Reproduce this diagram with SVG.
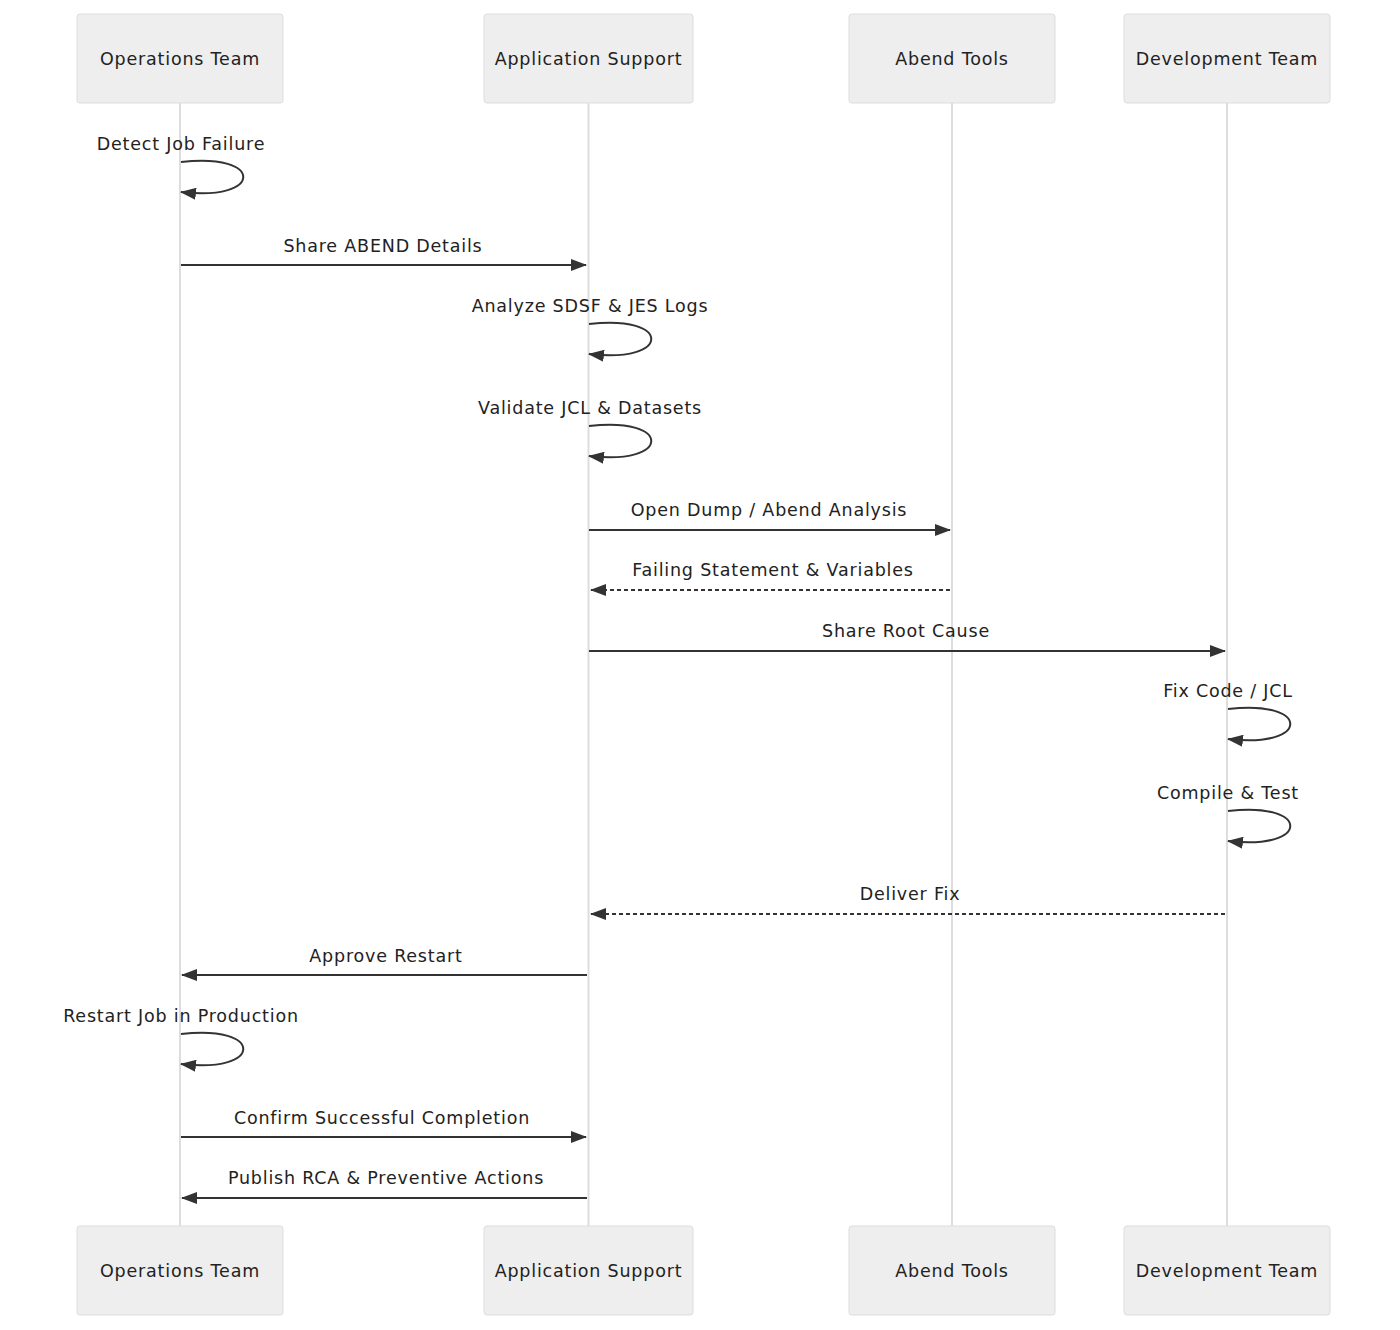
<svg xmlns="http://www.w3.org/2000/svg" width="1400" height="1330" viewBox="0 0 1400 1330">
<style>
.box{fill:#eee;stroke:#ddd;stroke-width:1}
.life{stroke:#ddd;stroke-width:2}
.t{font-family:"DejaVu Sans",sans-serif;font-size:17.5px;letter-spacing:0.8px;fill:#222;text-anchor:middle}
.m{stroke:#333;stroke-width:2;fill:none}
.d{stroke-dasharray:4,3}
</style>
<defs>
<marker id="ah" viewBox="0 0 16 12" refX="15" refY="6" markerWidth="16" markerHeight="12" markerUnits="userSpaceOnUse" orient="auto"><path d="M0,0 L16,6 L0,12 z" fill="#333"/></marker>
</defs>
<rect width="1400" height="1330" fill="#fff"/>
<g id="lifelines">
<line class="life" x1="180" y1="103" x2="180" y2="1226"/>
<line class="life" x1="588.5" y1="103" x2="588.5" y2="1226"/>
<line class="life" x1="952" y1="103" x2="952" y2="1226"/>
<line class="life" x1="1227" y1="103" x2="1227" y2="1226"/>
</g>
<g id="ops-top"><rect class="box" x="77" y="14" width="206" height="89" rx="3"/><text class="t" x="180" y="65">Operations Team</text></g>
<g id="app-top"><rect class="box" x="484" y="14" width="209" height="89" rx="3"/><text class="t" x="588.5" y="65">Application Support</text></g>
<g id="abend-top"><rect class="box" x="849" y="14" width="206" height="89" rx="3"/><text class="t" x="952" y="65">Abend Tools</text></g>
<g id="dev-top"><rect class="box" x="1124" y="14" width="206" height="89" rx="3"/><text class="t" x="1227" y="65">Development Team</text></g>
<g id="ops-bot"><rect class="box" x="77" y="1226" width="206" height="89" rx="3"/><text class="t" x="180" y="1277">Operations Team</text></g>
<g id="app-bot"><rect class="box" x="484" y="1226" width="209" height="89" rx="3"/><text class="t" x="588.5" y="1277">Application Support</text></g>
<g id="abend-bot"><rect class="box" x="849" y="1226" width="206" height="89" rx="3"/><text class="t" x="952" y="1277">Abend Tools</text></g>
<g id="dev-bot"><rect class="box" x="1124" y="1226" width="206" height="89" rx="3"/><text class="t" x="1227" y="1277">Development Team</text></g>
<g id="connectors">
<path class="m" marker-end="url(#ah)" d="M181,162 C264,152 264,202 181,192"/>
<line class="m" marker-end="url(#ah)" x1="181" y1="265" x2="586" y2="265"/>
<path class="m" marker-end="url(#ah)" d="M589,324 C672,314 672,364 589,354"/>
<path class="m" marker-end="url(#ah)" d="M589,426 C672,416 672,466 589,456"/>
<line class="m" marker-end="url(#ah)" x1="589" y1="530" x2="950" y2="530"/>
<line class="m d" marker-end="url(#ah)" x1="950" y1="590" x2="591" y2="590"/>
<line class="m" marker-end="url(#ah)" x1="589" y1="651" x2="1225" y2="651"/>
<path class="m" marker-end="url(#ah)" d="M1228,709 C1311,699 1311,749 1228,739"/>
<path class="m" marker-end="url(#ah)" d="M1228,811 C1311,801 1311,851 1228,841"/>
<line class="m d" marker-end="url(#ah)" x1="1225" y1="914" x2="591" y2="914"/>
<line class="m" marker-end="url(#ah)" x1="587" y1="975" x2="182" y2="975"/>
<path class="m" marker-end="url(#ah)" d="M181,1034 C264,1024 264,1074 181,1064"/>
<line class="m" marker-end="url(#ah)" x1="181" y1="1137" x2="586" y2="1137"/>
<line class="m" marker-end="url(#ah)" x1="587" y1="1198" x2="182" y2="1198"/>
</g>
<g id="labels">
<text class="t" x="181" y="150">Detect Job Failure</text>
<text class="t" x="383" y="252">Share ABEND Details</text>
<text class="t" x="590" y="312">Analyze SDSF &amp; JES Logs</text>
<text class="t" x="590" y="414">Validate JCL &amp; Datasets</text>
<text class="t" x="769" y="516">Open Dump / Abend Analysis</text>
<text class="t" x="773" y="576">Failing Statement &amp; Variables</text>
<text class="t" x="906" y="637">Share Root Cause</text>
<text class="t" x="1228" y="697">Fix Code / JCL</text>
<text class="t" x="1228" y="799">Compile &amp; Test</text>
<text class="t" x="910" y="900">Deliver Fix</text>
<text class="t" x="386" y="962">Approve Restart</text>
<text class="t" x="181" y="1022">Restart Job in Production</text>
<text class="t" x="382" y="1124">Confirm Successful Completion</text>
<text class="t" x="386" y="1184">Publish RCA &amp; Preventive Actions</text>
</g>
</svg>
